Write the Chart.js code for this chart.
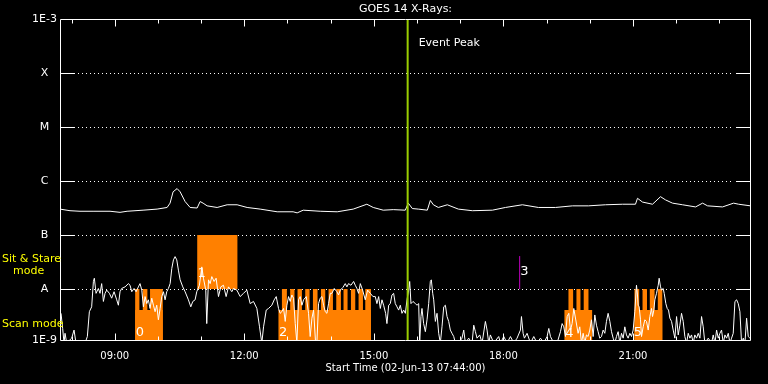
<!DOCTYPE html>
<html><head><meta charset="utf-8">
<script src="https://cdn.jsdelivr.net/npm/chart.js@4/dist/chart.umd.min.js"></script>
<style>html,body{margin:0;padding:0;background:#000;}canvas{display:block}</style>
</head><body>
<canvas id="c" width="768" height="384"></canvas>
<script>
// ---- data (time in minutes after 02-Jun-13 07:44:00, flux as log10 W/m^2) ----
const chartTitle = 'GOES 14 X-Rays:';
const xAxisTitle = 'Start Time (02-Jun-13 07:44:00)';

const longTime = [0,13.9,27.8,45.9,69.5,83.4,93.2,115.4,134.9,148.8,152.9,157.1,162.7,166.9,173.8,180.8,190.5,194.7,198.8,204.4,218.3,232.2,246.1,260.0,278.1,301.7,323.9,329.5,337.9,361.5,385.2,407.4,426.3,435.2,449.1,463.0,479.7,483.9,489.5,497.8,510.3,514.5,518.7,525.6,538.1,553.4,572.9,600.7,618.8,642.4,664.7,688.3,712.0,734.2,757.8,781.5,799.5,802.3,809.3,823.2,834.3,841.3,851.0,864.9,883.0,892.7,899.7,920.5,935.8,942.8,959.4];
const longLog = [-6.52,-6.55,-6.56,-6.56,-6.56,-6.58,-6.56,-6.54,-6.52,-6.49,-6.41,-6.20,-6.14,-6.20,-6.38,-6.49,-6.50,-6.38,-6.41,-6.46,-6.49,-6.44,-6.44,-6.49,-6.52,-6.57,-6.57,-6.59,-6.54,-6.56,-6.57,-6.52,-6.43,-6.49,-6.54,-6.53,-6.54,-6.41,-6.51,-6.52,-6.54,-6.36,-6.44,-6.49,-6.44,-6.52,-6.55,-6.54,-6.49,-6.44,-6.49,-6.49,-6.46,-6.46,-6.44,-6.43,-6.43,-6.32,-6.39,-6.43,-6.29,-6.35,-6.41,-6.44,-6.48,-6.41,-6.46,-6.48,-6.41,-6.43,-6.46];

const shortTime = [0,1.4,3.7,5.6,7.0,9.3,16.2,19.5,22.2,34.8,38.0,40.8,44.0,46.4,47.7,50.1,53.3,55.6,57.9,60.3,62.6,64.9,68.6,71.8,75.1,78.8,81.1,83.4,85.7,90.4,95.0,97.3,99.7,102.9,105.7,108.9,111.2,113.6,115.9,118.2,120.5,122.8,125.1,127.5,129.8,132.1,134.4,136.7,139.1,141.4,143.7,146.0,148.3,150.6,153.0,155.3,157.6,159.9,162.2,164.5,166.9,170.6,173.8,178.4,181.7,184.5,187.7,190.0,193.7,197.0,199.3,202.5,203.9,206.3,208.6,210.9,214.1,216.9,220.2,223.4,227.1,230.8,234.1,238.7,
241.0,245.7,250.3,254.9,259.6,264.2,268.8,273.5,277.2,280.4,282.8,286.5,289.7,294.3,297.6,300.4,303.6,305.9,308.2,310.6,312.9,315.2,317.5,319.8,322.1,324.5,326.8,329.1,331.4,333.7,336.1,338.4,342.1,345.3,347.6,350.0,352.3,355.1,356.9,359.2,361.5,363.9,366.2,368.5,370.8,373.1,375.5,377.8,381.0,384.7,387.0,389.4,393.1,396.3,398.6,400.9,404.2,407.9,410.2,412.5,414.8,417.2,420.4,424.1,427.4,431.1,434.8,438.0,440.3,442.7,445.0,447.3,449.6,452.4,454.2,456.6,458.9,461.2,463.5,465.8,468.2,470.5,472.8,475.1,
477.4,479.8,482.1,484.4,485.8,487.6,490.4,493.7,496.0,498.3,499.7,501.5,502.9,505.2,507.6,509.9,512.2,514.5,515.9,517.8,519.2,521.5,523.8,526.1,528.4,530.7,533.1,535.4,537.7,540.0,542.3,544.6,547.0,549.3,553.9,558.5,560.9,563.2,567.8,572.5,574.8,577.1,579.4,583.1,586.4,591.0,593.3,595.6,597.9,602.6,609.5,611.9,616.5,621.1,625.8,630.4,635.0,639.7,641.1,643.4,645.2,648.9,653.6,658.2,662.8,667.5,672.1,676.7,679.1,681.4,686.0,690.6,695.3,697.6,699.9,702.2,704.6,706.9,709.2,711.5,713.8,
719.8,722.1,724.5,726.8,729.1,731.4,733.7,736.0,738.4,740.7,743.0,745.3,747.6,749.9,752.3,754.6,756.9,759.2,761.5,763.9,766.2,768.5,770.8,773.1,775.4,777.8,780.1,782.4,784.7,787.0,789.3,791.7,794.0,796.3,798.6,800.9,802.3,803.2,804.6,806.5,807.9,810.2,812.5,814.8,817.2,819.5,821.8,823.2,825.0,826.4,828.7,831.1,832.4,834.3,835.7,838.0,839.4,841.7,843.6,845.4,847.3,849.6,851.9,854.2,856.6,858.9,861.2,863.5,865.8,868.1,870.5,872.8,875.1,877.4,879.7,882.0,884.4,886.7,889.0,891.3,893.6,895.9,900.6,905.2,907.5,909.9,912.2,914.5,916.8,919.1,921.4,923.8,926.1,928.4,930.7,933.0,935.3,937.7,940.0,942.3,944.6,946.9,949.3,951.6,953.9,956.2,958.5];
const shortLog = [-8.45,-8.45,-8.73,-9,-8.82,-9,-8.91,-8.76,-9,-9,-8.88,-8.42,-8.33,-7.86,-7.80,-8.08,-7.99,-8.08,-7.90,-8.23,-8.08,-8.02,-8.08,-8.17,-8.05,-8.20,-8.30,-8.05,-7.99,-7.96,-7.90,-7.93,-8.05,-7.99,-8.05,-7.96,-7.90,-8.02,-8.33,-8.14,-8.27,-8.20,-8.36,-8.17,-8.30,-8.42,-8.30,-8.57,-8.36,-8.14,-8.05,-8.20,-8.05,-7.99,-7.90,-7.62,-7.46,-7.40,-7.46,-7.65,-7.83,-7.96,-8.05,-8.20,-8.33,-8.23,-8.20,-8.05,-7.93,-7.59,-7.80,-8.02,-8.64,-7.83,-7.90,-7.77,-7.86,-7.80,-8.14,-7.96,-7.93,-8.14,-7.96,-8.05,
-7.99,-8.02,-8.14,-8.08,-8.02,-8.27,-8.23,-8.36,-8.70,-9,-8.70,-8.39,-8.36,-8.30,-8.20,-8.14,-8.36,-8.45,-8.42,-8.36,-8.60,-8.30,-8.14,-8.23,-8.11,-8.17,-8.64,-9,-8.20,-8.14,-8.30,-8.20,-8.14,-8.45,-8.88,-8.54,-8.39,-9,-9,-8.27,-8.17,-8.14,-8.30,-8.42,-8.45,-8.27,-8.08,-8.08,-7.99,-8.05,-8.11,-8.02,-7.97,-7.90,-7.96,-7.90,-7.93,-7.86,-7.93,-7.99,-8.08,-7.90,-8.02,-8.20,-8.02,-8.08,-8.14,-8.14,-8.27,-8.14,-8.36,-8.20,-8.30,-8.45,-8.64,-8.30,-8.27,-8.11,-8.08,-8.27,-8.33,-8.39,-8.30,-8.45,
-8.39,-8.45,-8.20,-8.02,-7.86,-8.27,-8.23,-8.27,-8.30,-8.27,-9,-8.51,-8.36,-8.64,-8.79,-8.57,-8.27,-7.86,-7.83,-8.08,-8.20,-8.60,-8.45,-8.82,-9,-8.70,-8.33,-8.30,-8.51,-8.60,-8.76,-8.82,-8.88,-9,-9,-8.91,-8.76,-9,-8.91,-9,-8.67,-8.79,-8.91,-8.85,-9,-8.60,-8.76,-9,-8.85,-9,-8.88,-9,-8.88,-9,-8.88,-9,-8.91,-8.76,-8.51,-8.82,-8.91,-8.82,-9,-8.88,-9,-8.91,-9,-8.88,-8.73,-8.88,-9,-9,-8.79,-8.64,-8.70,-8.88,-8.51,-8.45,-8.76,-8.64,-8.36,
-8.82,-8.70,-9,-8.82,-9,-8.85,-8.88,-8.76,-8.57,-8.88,-8.48,-8.67,-8.79,-8.91,-8.88,-8.76,-8.82,-8.60,-8.45,-8.60,-8.79,-8.91,-9,-8.88,-8.79,-9,-8.82,-8.91,-8.70,-8.85,-8.91,-8.82,-8.88,-8.76,-8.42,-7.93,-8.11,-8.30,-8.33,-8.57,-8.88,-8.70,-8.57,-8.60,-8.76,-8.51,-8.36,-8.51,-8.39,-8.20,-8.08,-7.93,-7.80,-7.96,-8.02,-7.99,-8.08,-8.27,-8.36,-8.39,-8.54,-8.60,-8.76,-8.91,-8.51,-8.85,-8.67,-8.45,-8.60,-8.88,-9,-8.82,-8.91,-8.85,-9,-8.85,-8.91,-8.82,-8.91,-8.51,-8.70,-9,-8.91,-9,-8.85,-9,-8.76,-8.91,-8.82,-8.76,-9,-8.85,-8.91,-8.82,-9,-8.91,-8.82,-8.23,-8.20,-8.27,-8.42,-9,-8.91,-9,-8.54,-8.88,-8.91];

// scan mode observing intervals (minutes)
const scanStart = [104.3, 303.5, 700.8, 798.1];
const scanEnd   = [142.8, 432.0, 739.3, 837.1];
const scanFullStart = [104.3,115.0,125.1, 308.3,319.8,330.0,340.7,351.4,362.5,373.1,383.8,393.9,404.2,414.8,424.1, 706.4,717.5,727.6, 798.1,809.3,819.4,830.5];
const scanFullEnd   = [110.3,121.4,142.8, 315.2,325.8,336.1,346.7,357.8,368.5,379.2,390.3,399.5,410.2,420.9,432.0, 712.9,723.1,734.2, 804.7,815.5,826.0,837.1];
const scanPartLevel = -8.39;
const scanFullLevel = -8;
// sit & stare interval
const stareStart = [190.5];
const stareEnd = [246.8];
const stareLevelTop = -7, stareLevelBottom = -8;

const eventPeakTime = 483;
const eventLabel = 'Event Peak';
const marker3 = {time: 638.6, low: -8, high: -7.39};
const rasterNames = ['0','1','2','3','4','5'];
const rasterTime  = [111, 196.8, 310, 645, 707.8, 803];
const rasterLevel = [-8.80, -7.71, -8.81, -7.68, -8.83, -8.80];

const yMin = -8.944, yMax = -3;
const yTickValues = [-8.944, -8, -7, -6, -5, -4, -3];
const yTickLabels = ['1E-9','A','B','C','M','X','1E-3'];
const hourTicks = [16,76,136,196,256,316,376,436,496,556,616,676,736,796,856,916];
const xLabelTicks = [76,256,436,616,796];
const xLabelText = ['09:00','12:00','15:00','18:00','21:00'];

// ---- build datasets ----
function pairs(xs, ys){ return xs.map((x,i)=>({x:x, y:ys[i]})); }
function rects(starts, ends, level, base){
  const out=[];
  starts.forEach((s,i)=>{ out.push({x:s,y:base},{x:s,y:level},{x:ends[i],y:level},{x:ends[i],y:base}); });
  return out;
}
const ORANGE = '#ff8000';
const FONT = 'DejaVu Sans';

const overlay = {
  id:'overlay',
  beforeDatasetsDraw(chart){
    const {ctx, chartArea:a, scales:{y}} = chart;
    ctx.save();
    ctx.strokeStyle='#fff'; ctx.lineWidth=1;
    yTickValues.slice(1,-1).forEach(v=>{
      const py = Math.round(y.getPixelForValue(v))+0.5;
      ctx.setLineDash([]);
      ctx.beginPath(); ctx.moveTo(a.left,py); ctx.lineTo(a.left+15,py);
      ctx.moveTo(a.right-15,py); ctx.lineTo(a.right,py); ctx.stroke();
      ctx.setLineDash([1,3]);
      ctx.beginPath(); ctx.moveTo(a.left+18,py); ctx.lineTo(a.right-17,py); ctx.stroke();
    });
    ctx.restore();
  },
  afterDatasetsDraw(chart){
    const {ctx, chartArea:a, scales:{x,y}} = chart;
    ctx.save();
    ctx.strokeStyle='#fff'; ctx.lineWidth=1; ctx.setLineDash([]);
    const L=Math.round(a.left)+0.5, R=Math.round(a.right)-0.5, T=Math.round(a.top)+0.5, B=Math.round(a.bottom)+0.5;
    ctx.beginPath(); ctx.moveTo(L,T); ctx.lineTo(R,T); ctx.lineTo(R,B); ctx.lineTo(L,B); ctx.closePath(); ctx.stroke();
    hourTicks.forEach(v=>{
      const px = Math.round(x.getPixelForValue(v))+0.5;
      const len = xLabelTicks.includes(v) ? 7 : 4;
      ctx.beginPath(); ctx.moveTo(px,T); ctx.lineTo(px,T+len);
      ctx.moveTo(px,B); ctx.lineTo(px,B-len); ctx.stroke();
    });
    ctx.fillStyle='#fff'; ctx.font='13px "'+FONT+'"'; ctx.textAlign='center'; ctx.textBaseline='middle';
    rasterNames.forEach((n,i)=>{ ctx.fillText(n, x.getPixelForValue(rasterTime[i]), y.getPixelForValue(rasterLevel[i])); });
    ctx.restore();
  },
  afterDraw(chart){
    const {ctx, chartArea:a, scales:{x}} = chart;
    ctx.save();
    ctx.fillStyle='#fff'; ctx.textBaseline='middle';
    ctx.font='11px "'+FONT+'"'; ctx.textAlign='center';
    ctx.fillText(chartTitle, (a.left+a.right)/2, 9);
    ctx.textAlign='left';
    ctx.fillText(eventLabel, x.getPixelForValue(eventPeakTime)+11, 43);
    ctx.fillStyle='#ffff00';
    ctx.fillText('Sit & Stare', 2, 259);
    ctx.fillText('mode', 13, 271);
    ctx.fillText('Scan mode', 2, 324);
    ctx.restore();
  }
};

new Chart(document.getElementById('c'), {
  type:'line',
  data:{ datasets:[
    {label:'Sit & Stare', data: rects(stareStart, stareEnd, stareLevelTop, stareLevelBottom), fill:{value:stareLevelBottom},
     backgroundColor:ORANGE, borderColor:'rgba(0,0,0,0)', borderWidth:0, pointRadius:0, order:5},
    {label:'Scan', data: rects(scanStart, scanEnd, scanPartLevel, yMin), fill:'start',
     backgroundColor:ORANGE, borderColor:'rgba(0,0,0,0)', borderWidth:0, pointRadius:0, order:4},
    {label:'Scan full', data: rects(scanFullStart, scanFullEnd, scanFullLevel, yMin), fill:'start',
     backgroundColor:ORANGE, borderColor:'rgba(0,0,0,0)', borderWidth:0, pointRadius:0, order:3},
    {label:'1-8 A', data: pairs(longTime, longLog), borderColor:'#fff', borderWidth:1, pointRadius:0, fill:false, order:2},
    {label:'0.5-4 A', data: pairs(shortTime, shortLog), borderColor:'#fff', borderWidth:1, pointRadius:0, fill:false, order:2},
    {label:'marker 3', data:[{x:marker3.time,y:marker3.low},{x:marker3.time,y:marker3.high}], borderColor:'#c000c0', borderWidth:1, pointRadius:0, fill:false, order:1},
    {label:'Event Peak', data:[{x:eventPeakTime,y:yMin},{x:eventPeakTime,y:yMax}], borderColor:'#9acd00', borderWidth:2, pointRadius:0, fill:false, order:0}
  ]},
  options:{
    responsive:false, animation:false, devicePixelRatio:1,
    layout:{padding:{left:0,right:17,top:19,bottom:0}},
    plugins:{legend:{display:false}, tooltip:{enabled:false}, title:{display:false}},
    elements:{line:{tension:0}},
    scales:{
      x:{type:'linear', min:0, max:960,
        afterBuildTicks:s=>{ s.ticks = hourTicks.map(v=>({value:v})); },
        afterFit:s=>{ s.height = 44; },
        grid:{display:false, drawTicks:false}, border:{display:false},
        ticks:{color:'#fff', font:{family:FONT,size:10}, padding:10, maxRotation:0, minRotation:0, autoSkip:false,
          callback:(v)=>{ const k=xLabelTicks.indexOf(v); return k>=0 ? xLabelText[k] : ''; }},
        title:{display:true, text:xAxisTitle, color:'#fff', font:{family:FONT,size:10}, padding:{top:0,bottom:10}}
      },
      y:{type:'linear', min:yMin, max:yMax,
        afterBuildTicks:s=>{ s.ticks = yTickValues.map(v=>({value:v})); },
        afterFit:s=>{ s.width = 60; },
        grid:{display:false, drawTicks:false}, border:{display:false},
        ticks:{color:'#fff', font:{family:FONT,size:11}, padding:3, crossAlign:'center',
          callback:(v,i)=>yTickLabels[i]}
      }
    }
  },
  plugins:[overlay]
});
</script>
</body></html>
